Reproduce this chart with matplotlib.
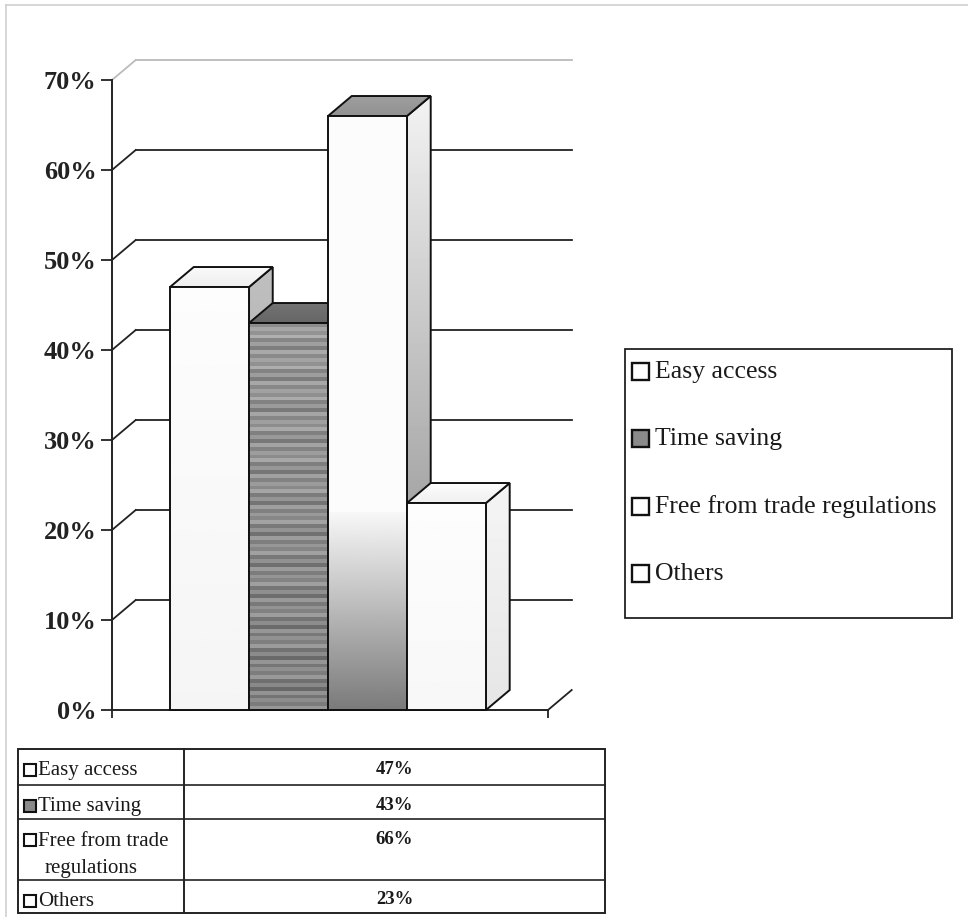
import numpy as np
import matplotlib
matplotlib.use('Agg')
import matplotlib.pyplot as plt
from matplotlib.patches import Polygon, Rectangle

plt.rcParams['font.family'] = ['Liberation Serif', 'DejaVu Serif']

# data
categories = ['Easy access', 'Time saving', 'Free from trade regulations', 'Others']
table_labels = [['Easy access'], ['Time saving'], ['Free from trade', 'regulations'], ['Others']]
values = [47, 43, 66, 23]
yticks = [0, 10, 20, 30, 40, 50, 60, 70]

W, H = 968, 917
fig = plt.figure(figsize=(W / 100, H / 100), dpi=100)
fig.patch.set_facecolor('white')

# main axes, pixel box 112..548 x 80..710
ax = fig.add_axes([112 / W, (H - 710) / H, 436 / W, 630 / H])
xmax = 5.52
ax.set_xlim(0, xmax)
ax.set_ylim(0, 70)
ax.set_facecolor('none')
for s in ['top', 'right']:
    ax.spines[s].set_visible(False)
for s in ['left', 'bottom']:
    ax.spines[s].set_linewidth(1.4)
    ax.spines[s].set_color('#222222')
ax.set_yticks(yticks)
ax.set_yticklabels([f'{v}%' for v in yticks])
ax.tick_params(axis='y', direction='out', length=8, width=1.3, pad=3,
               labelsize=19, colors='#222222')
for t in ax.get_yticklabels():
    t.set_fontweight('bold')
ax.set_xticks([0, xmax])
ax.set_xticklabels([])
ax.tick_params(axis='x', direction='out', length=6, width=1.3, colors='#222222')

dx, dy = 0.30, 2.22   # depth offset in data units

# back wall grid lines and floor diagonals
for v in yticks:
    c = '#bbbbbb' if v == 70 else '#222222'
    if v > 0:
        ax.plot([dx, xmax + dx], [v + dy, v + dy], color=c, lw=1.3,
                zorder=1, clip_on=False)
        ax.plot([0, dx], [v, v + dy], color=c, lw=1.3, zorder=1, clip_on=False)
ax.plot([xmax, xmax + dx], [0, dy], color='#222222', lw=1.3, zorder=1, clip_on=False)


def shade(poly, top, bottom, z, stripes=False):
    # vertical gradient (top -> bottom tone) clipped to poly
    xs = [p[0] for p in poly]
    ys = [p[1] for p in poly]
    n = 200
    col = np.linspace(top, bottom, n)
    if stripes:
        pat = np.array([0.0, 0.10, 0.03, 0.14, -0.02, 0.08, -0.05, 0.12])
        col = col + np.resize(np.repeat(pat, 2), n)
    img = col[:, None] * np.ones((1, 4))
    im = ax.imshow(img, cmap='gray', vmin=0, vmax=1, aspect='auto',
                   extent=[min(xs), max(xs), min(ys), max(ys)], origin='upper',
                   zorder=z, interpolation='nearest' if stripes else 'bilinear')
    p = Polygon(poly, closed=True, transform=ax.transData)
    im.set_clip_path(p)


# face tones: (front top, front bottom, top face, side top, side bottom)
tones = [
    (0.99, 0.96, 0.98, 0.75, 0.60),
    (0.55, 0.45, 0.45, 0.55, 0.45),
    (0.99, 0.50, 0.62, 0.95, 0.50),
    (0.99, 0.97, 0.99, 0.96, 0.90),
]

centers = [1.235 + i for i in range(len(values))]
bw = 1.0
for i, (c, v) in enumerate(zip(centers, values)):
    z = 3 + i * 3
    x0, x1 = c - bw / 2, c + bw / 2
    ft, fb, tp, st, sb = tones[i]
    side = [(x1, 0), (x1 + dx, dy), (x1 + dx, v + dy), (x1, v)]
    top = [(x0, v), (x0 + dx, v + dy), (x1 + dx, v + dy), (x1, v)]
    shade(side, st, sb, z)
    ax.add_patch(Polygon(side, closed=True, fill=False, ec='#111111', lw=1.4,
                         zorder=z + 0.5, clip_on=False))
    shade(top, tp, tp - 0.05, z + 1)
    ax.add_patch(Polygon(top, closed=True, fill=False, ec='#111111', lw=1.4,
                         zorder=z + 1.5, clip_on=False))
    front = [(x0, 0), (x0, v), (x1, v), (x1, 0)]
    if i == 2:
        # white upper part fading into grey near the floor
        ax.add_patch(Polygon(front, closed=True, fc='#fcfcfc', ec='none', zorder=z + 2))
        shade([(x0, 0), (x0, 22), (x1, 22), (x1, 0)], 0.97, 0.48, z + 2.1)
    else:
        shade(front, ft, fb, z + 2, stripes=(i == 1))
    bars = ax.bar([c], [v], width=bw, fill=False, edgecolor='#111111',
                  linewidth=1.4, zorder=z + 2.5)
    for b in bars:
        b.set_clip_on(False)

ax.set_xlim(0, xmax)
ax.set_ylim(0, 70)

# overlay in pixel coordinates: frame, legend, data table
ov = fig.add_axes([0, 0, 1, 1])
ov.set_xlim(0, W)
ov.set_ylim(H, 0)
ov.axis('off')
ov.patch.set_alpha(0)
ov.plot([6, 6], [5, H], color='#cfcfcf', lw=1.2)
ov.plot([6, W], [5, 5], color='#cfcfcf', lw=1.2)

swatch = ['white', '#8a8a8a', 'white', 'white']

# legend
ov.add_patch(Rectangle((625, 349), 327, 269, fill=False, ec='#222222', lw=1.3))
for k, (name, fc) in enumerate(zip(categories, swatch)):
    yc = 371 + k * 67.3
    ov.add_patch(Rectangle((632, yc - 8), 17, 17, fc=fc, ec='#111111', lw=1.7))
    ov.text(655, yc + 1, name, fontsize=18.5, va='center', ha='left', color='#1a1a1a')

# data table
tx0, tx1, tdiv = 18, 605, 184
rows = [749, 785, 819, 880, 913]
ov.add_patch(Rectangle((tx0, rows[0]), tx1 - tx0, rows[-1] - rows[0], fill=False,
                       ec='#222222', lw=1.4))
ov.plot([tdiv, tdiv], [rows[0], rows[-1]], color='#222222', lw=1.4)
for r in rows[1:-1]:
    ov.plot([tx0, tx1], [r, r], color='#222222', lw=1.2)
for k, (lines, v, fc) in enumerate(zip(table_labels, values, swatch)):
    yc = rows[k] + 21
    ov.add_patch(Rectangle((24, yc - 6), 12, 12, fc=fc, ec='#111111', lw=1.5))
    for j, ln in enumerate(lines):
        ov.text(38 if j == 0 else 45, yc + 1 + 27 * j, ln, fontsize=15, va='center',
                ha='left', color='#1a1a1a')
    ov.text((tdiv + tx1) / 2, yc - 1, f'{v}%', fontsize=13.5, va='center', ha='center',
            color='#1a1a1a', fontweight='bold')

fig.savefig('out.png', dpi=100, facecolor='white')
